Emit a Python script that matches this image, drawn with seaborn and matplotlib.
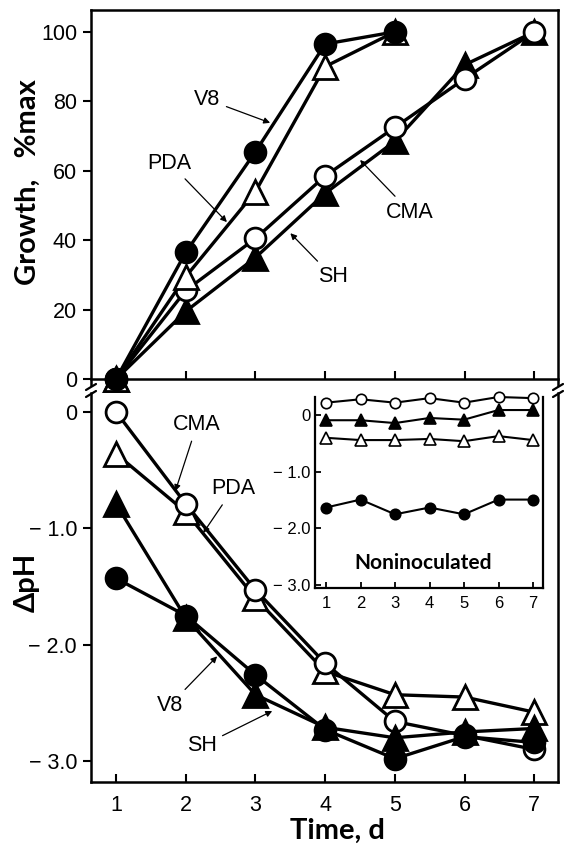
import matplotlib
matplotlib.use('Agg')
import matplotlib.pyplot as plt
from matplotlib.lines import Line2D
import seaborn as sns
import pandas as pd

# data
days = [1, 2, 3, 4, 5, 6, 7]
media = ['V8', 'PDA', 'CMA', 'SH']

growth_v8 = [0, 36.5, 65.5, 96.5, 100]
growth_pda = [0, 29.5, 54, 90, 100]
growth_cma = [0, 25.5, 40.5, 58.5, 72.5, 86.5, 100]
growth_sh = [0, 19.5, 35, 53.5, 68.5, 90.5, 100]

dph_v8 = [-1.43, -1.75, -2.26, -2.73, -2.98, -2.79, -2.84]
dph_pda = [-0.36, -0.86, -1.6, -2.23, -2.43, -2.45, -2.58]
dph_cma = [0.0, -0.79, -1.53, -2.16, -2.66, -2.78, -2.9]
dph_sh = [-0.79, -1.77, -2.43, -2.71, -2.8, -2.75, -2.72]

non_v8 = [-1.63, -1.49, -1.75, -1.63, -1.75, -1.49, -1.49]
non_pda = [-0.4, -0.44, -0.44, -0.42, -0.46, -0.37, -0.44]
non_cma = [0.22, 0.28, 0.22, 0.3, 0.22, 0.32, 0.3]
non_sh = [-0.09, -0.09, -0.14, -0.05, -0.08, 0.09, 0.09]

# marker / face colour per medium
styles = {'V8': ('o', 'black'), 'PDA': ('^', 'white'),
          'CMA': ('o', 'white'), 'SH': ('^', 'black')}

sns.set_style('ticks', {'axes.edgecolor': 'black', 'xtick.color': 'black',
                        'ytick.color': 'black', 'text.color': 'black',
                        'axes.labelcolor': 'black'})
plt.rcParams['font.family'] = ['Liberation Sans', 'DejaVu Sans']
LABEL_FONT = dict(family=['Lato', 'DejaVu Sans'], weight='bold')

W, H = 564, 847
fig = plt.figure(figsize=(W / 100, H / 100), dpi=100)


def frac(x0, y0, x1, y1):
    # pixel box (top-left origin) -> figure fraction rect
    return [x0 / W, 1 - y1 / H, (x1 - x0) / W, (y1 - y0) / H]


def draw(ax, name, vals, ms, lw, mew, z):
    m, fc = styles[name]
    df = pd.DataFrame({'day': days[:len(vals)], 'val': vals})
    size = ms * 1.12 if m == '^' else ms
    sns.lineplot(data=df, x='day', y='val', ax=ax, color='black', lw=lw,
                 marker=m, markersize=size, markerfacecolor=fc,
                 markeredgecolor='black', markeredgewidth=mew,
                 clip_on=False, zorder=z)


ax1 = fig.add_axes(frac(91, 10, 558, 385))
ax2 = fig.add_axes(frac(91, 393, 558, 782))
ax3 = fig.add_axes(frac(315, 397, 543, 588))

# ---- top: growth
for name, vals, z in [('SH', growth_sh, 3), ('CMA', growth_cma, 4),
                      ('PDA', growth_pda, 5), ('V8', growth_v8, 6)]:
    draw(ax1, name, vals, 15, 2.4, 2, z)
ax1.set_xlim(0.64, 7.34)
ax1.set_ylim(-1.73, 106.3)
ax1.spines['bottom'].set_position(('data', 0))
ax1.set_xticks(days)
ax1.set_xticklabels([])
ax1.tick_params(axis='x', direction='in', length=6, width=1.5)
ax1.set_yticks([0, 20, 40, 60, 80, 100])
ax1.tick_params(axis='y', direction='out', length=6, width=1.5, labelsize=15.5, pad=4)
ax1.set_xlabel('')
ax1.set_ylabel('Growth,   %max', fontsize=21, **LABEL_FONT)
ax1.yaxis.set_label_coords(-0.108, 0.54)
for s in ax1.spines.values():
    s.set_linewidth(1.8)

# ---- bottom: delta pH
for name, vals, z in [('PDA', dph_pda, 3), ('CMA', dph_cma, 4),
                      ('SH', dph_sh, 5), ('V8', dph_v8, 6)]:
    draw(ax2, name, vals, 15, 2.4, 2, z)
ax2.set_xlim(0.64, 7.34)
ax2.set_ylim(-3.18, 0.163)
ax2.spines['top'].set_visible(False)
ax2.set_xticks(days)
ax2.tick_params(axis='x', direction='in', length=6, width=1.5, labelsize=15.5, pad=9)
ax2.set_yticks([0, -1, -2, -3])
ax2.set_yticklabels(['0', '\u2212 1.0', '\u2212 2.0', '\u2212 3.0'])
ax2.tick_params(axis='y', direction='out', length=6, width=1.5, labelsize=15.5, pad=4)
ax2.set_xlabel('Time, d', fontsize=21, **LABEL_FONT)
ax2.xaxis.set_label_coords(0.527, -0.092)
ax2.set_ylabel('\u0394pH', fontsize=21, **LABEL_FONT)
ax2.yaxis.set_label_coords(-0.11, 0.514)
for s in ax2.spines.values():
    s.set_linewidth(1.8)

# ---- inset: noninoculated
ax3.set_facecolor('white')
ax3.set_zorder(10)
for name, vals in [('V8', non_v8), ('PDA', non_pda), ('SH', non_sh), ('CMA', non_cma)]:
    draw(ax3, name, vals, 7.5, 1.5, 1.2, 3)
ax3.set_xlim(0.68, 7.29)
ax3.set_ylim(-3.05, 0.32)
ax3.spines['top'].set_visible(False)
ax3.set_xticks(days)
ax3.tick_params(axis='x', direction='in', length=4, width=1.3, labelsize=12, pad=6)
ax3.set_yticks([0, -1, -2, -3])
ax3.set_yticklabels(['0', '\u2212 1.0', '\u2212 2.0', '\u2212 3.0'])
ax3.tick_params(axis='y', direction='in', length=4, width=1.3, labelsize=12, pad=3)
ax3.set_xlabel('')
ax3.set_ylabel('')
for s in ax3.spines.values():
    s.set_linewidth(1.6)
ax3.text(0.474, 0.13, 'Noninoculated', transform=ax3.transAxes, ha='center',
         va='center', fontsize=15, **LABEL_FONT)

# ---- curve labels with pointers
arrow = dict(arrowstyle='-|>', color='black', lw=0.9, mutation_scale=9,
             shrinkA=2, shrinkB=0)
top_labels = [('V8', (2.31, 80.5), (3.21, 73.8)),
              ('PDA', (1.77, 62.2), (2.59, 45.2)),
              ('CMA', (5.22, 48.1), (4.5, 63.1)),
              ('SH', (4.11, 29.4), (3.5, 42.0))]
for txt, xyt, xy in top_labels:
    ax1.annotate(txt, xy=xy, xytext=xyt, ha='center', va='center',
                 fontsize=15.5, arrowprops=arrow, zorder=8)

bottom_labels = [('CMA', (2.16, -0.11), (1.85, -0.68)),
                 ('PDA', (2.68, -0.66), (2.25, -1.04)),
                 ('V8', (1.77, -2.52), (2.45, -2.1)),
                 ('SH', (2.23, -2.87), (3.24, -2.57))]
for txt, xyt, xy in bottom_labels:
    ax2.annotate(txt, xy=xy, xytext=xyt, ha='center', va='center',
                 fontsize=15.5, arrowprops=arrow, zorder=8)

# ---- axis break marks
for bx in (91, 558):
    for by in (387, 394):
        x0, y0 = (bx - 5) / W, 1 - (by + 3) / H
        x1, y1 = (bx + 5) / W, 1 - (by - 3) / H
        fig.add_artist(Line2D([x0, x1], [y0, y1], color='black', lw=1.6))

fig.savefig('out.png', dpi=100)
